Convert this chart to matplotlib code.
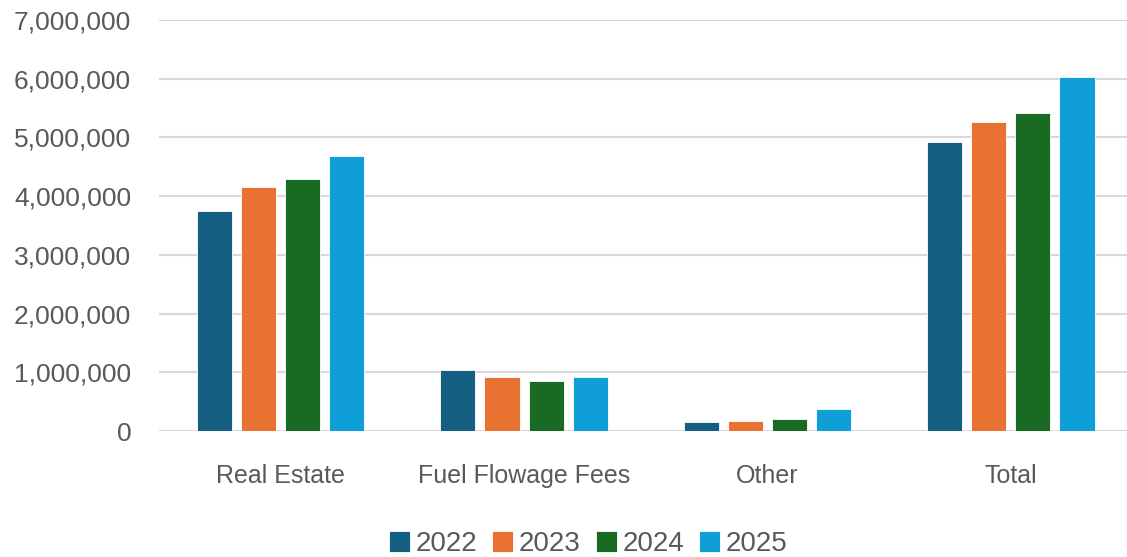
import numpy as np
import matplotlib
matplotlib.use('Agg')
from matplotlib import pyplot as plt
from matplotlib.ticker import FuncFormatter

# data
categories = ['Real Estate', 'Fuel Flowage Fees', 'Other', 'Total']
years = ['2022', '2023', '2024', '2025']
v2022 = [3740000, 1040000, 150000, 4920000]
v2023 = [4160000, 925000, 175000, 5270000]
v2024 = [4300000, 860000, 200000, 5410000]
v2025 = [4690000, 925000, 375000, 6030000]
colors = ['#156082', '#E97132', '#196B24', '#0F9ED5']

plt.rcParams['font.family'] = ['Liberation Sans', 'DejaVu Sans']

fig = plt.figure(figsize=(11.27, 5.57), dpi=100)
ax = fig.add_axes([0.141, 0.226, 0.864, 0.738])

x = np.arange(len(categories))
pitch = 0.181
width = 0.144
series = [v2022, v2023, v2024, v2025]
for i, vals in enumerate(series):
    ax.bar(x + (i - 1.5) * pitch, vals, width, color=colors[i],
           edgecolor='white', linewidth=0.6, label=years[i], zorder=3)

ax.set_xlim(-0.5, 3.5)
ax.set_ylim(0, 7000000)
ax.set_yticks(range(0, 7000001, 1000000))
ax.yaxis.set_major_formatter(FuncFormatter(lambda v, p: f'{int(v):,}'))
ax.grid(axis='y', color='#D9D9D9', linewidth=1.5, zorder=0)
for s in ax.spines.values():
    s.set_visible(False)
ax.tick_params(axis='both', length=0, colors='#595959')
ax.tick_params(axis='y', pad=20, labelsize=19)
ax.tick_params(axis='x', pad=24, labelsize=18)
ax.set_xticks(x)
ax.set_xticklabels(categories)

fig.legend(loc='lower center', bbox_to_anchor=(0.522, -0.045), ncol=4, frameon=False,
           fontsize=20, handlelength=0.75, handleheight=0.75, handletextpad=0.2,
           columnspacing=0.55, labelcolor='#595959')

fig.savefig('out.png', dpi=100)
